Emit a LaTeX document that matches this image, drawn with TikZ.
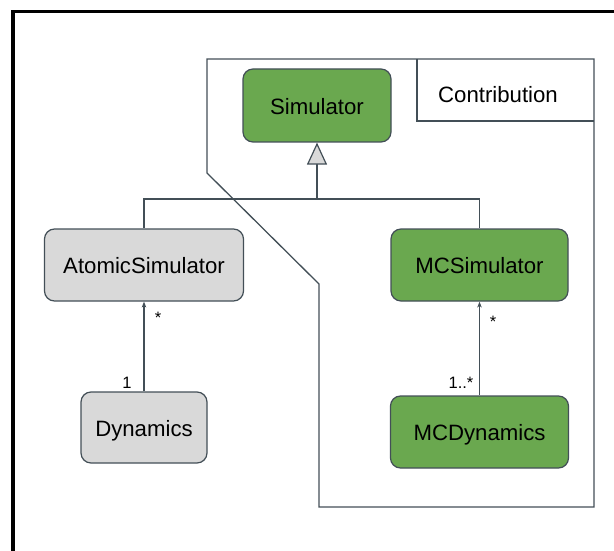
\documentclass[tikz,border=0pt]{standalone}
\usepackage{fontspec}
\setmainfont{Liberation Sans}
\usetikzlibrary{arrows.meta}
\definecolor{boxgreen}{HTML}{6AA84F}
\definecolor{boxgray}{HTML}{D9D9D9}
\definecolor{edge}{HTML}{434F57}
\tikzset{
  classbox/.style={draw=edge,line width=1.2pt,rounded corners=10pt,align=center,
    inner sep=0pt,text height=21pt,text depth=3.3pt,font=\fontsize{22.2}{26}\selectfont},
  newclass/.style={classbox,fill=boxgreen},
  oldclass/.style={classbox,fill=boxgray},
  mult/.style={font=\fontsize{16.5}{19}\selectfont},
  assoc/.style={draw=edge,line width=1.2pt,-{Stealth[length=6pt,width=4.5pt]}},
  inherit/.style={draw=edge,line width=1.2pt,-{Triangle[length=22pt,width=20pt,fill=boxgray]}},
}

\begin{document}
\begin{tikzpicture}[x=1pt,y=-1pt]
\useasboundingbox (0,0) rectangle (614,551);
\draw[line width=3.5pt] (13,551) -- (13,11.5) -- (614,11.5);
%%%%%%%%%%%%%%%%%%%%%%%%%%%%%%%%%
\draw[edge,line width=1.3pt] (207,59) -- (594,59) -- (594,507) -- (319,507)
  -- (319,284) -- (207,173) -- cycle;
\draw[edge,line width=1.3pt] (417,59) -- (417,121) -- (594,121);
\node[font=\fontsize{22.2}{26}\selectfont] (contrib) at (498,95) {Contribution};
%%%%%%%%%%%%%%%%%%%%%%%%%%%%%%%%%
\node[newclass,minimum width=148pt,minimum height=73pt] (sim) at (317,105.5) {Simulator};
\node[oldclass,minimum width=199pt,minimum height=72pt] (atomsim) at (144,265) {AtomicSimulator};
\node[newclass,minimum width=177pt,minimum height=72pt] (mcsim) at (479.5,265) {MCSimulator};
\node[oldclass,minimum width=126pt,minimum height=71pt] (dyn) at (144,427.5) {Dynamics};
\node[newclass,minimum width=178pt,minimum height=72pt] (mcdyn) at (479.5,432) {MCDynamics};
%%%%%%%%%%%%%%%%%%%%%%%%%%%%%%%%%
\coordinate (fork) at (317,199);
\draw[edge,line width=1.2pt] (atomsim.north) |- (fork) -| (mcsim.north);
\draw[inherit] (fork) -- (sim.south);
\draw[assoc] (dyn.north) -- (atomsim.south);
\draw[assoc] (mcdyn.north) -- (mcsim.south);
\node[mult] (dynone) at (127,383) {1};
\node[mult] (atomstar) at (158,318) {*};
\node[mult] (mcdynmany) at (461,383) {1..*};
\node[mult] (mcstar) at (493,322) {*};
\end{tikzpicture}
\end{document}
